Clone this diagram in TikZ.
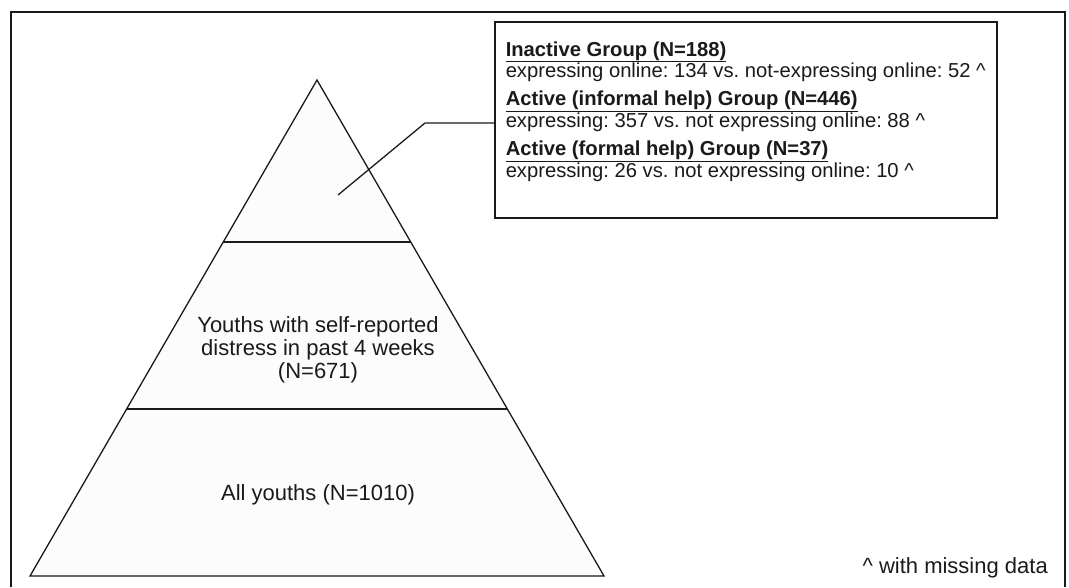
\documentclass[tikz,border=0pt]{standalone}
\usepackage{fontspec}
\setmainfont{Liberation Sans}
\usepackage{xcolor}
\usepackage{tikz}
\usetikzlibrary{calc,positioning}
\definecolor{linec}{HTML}{1A1A1A}
\definecolor{pyrbg}{HTML}{FCFCFC}
\frenchspacing
\tikzset{
  frm/.style={draw=linec,line width=2pt},
  ln/.style={draw=linec,line width=1.3pt},
  lbl/.style={align=center,font=\fontsize{22}{23}\selectfont,text=linec,inner sep=0pt},
  box/.style={draw=linec,line width=1.5pt,fill=white,align=left,anchor=north west,
    minimum width=502pt,minimum height=196pt,inner xsep=6pt,
    font=\fontsize{20.2}{20}\selectfont,text=linec}
}
\begin{document}
\begin{tikzpicture}[x=1pt,y=-1pt]
\useasboundingbox (0,0) rectangle (1069,587);
\draw[frm] (11,587)--(11,12)--(1065,12)--(1065,587);
% pyramid
\coordinate (top) at (317,80);
\coordinate (bl) at (30,576);
\coordinate (br) at (604,576);
\fill[pyrbg] (top)--(bl)--(br)--cycle;
\draw[ln] (top)--(bl)--(br)--cycle;
\draw[ln] ($(top)!162/496!(bl)$) -- ($(top)!162/496!(br)$);
\draw[ln] ($(top)!329/496!(bl)$) -- ($(top)!329/496!(br)$);
\node[lbl] (mid) at (318,349.5) {Youths with self-reported\\distress in past 4 weeks\\(N=671)};
\node[lbl,anchor=base] (all) at (318,500) {All youths (N=1010)};
% groups
\node[box] (groups) at (494,21) {%
\underline{\textbf{Inactive Group (N=188)}}\\
expressing online: 134 vs. not-expressing online: 52 \^{}\\[8pt]
\underline{\textbf{Active (informal help) Group (N=446)}}\\
expressing: 357 vs. not expressing online: 88 \^{}\\[8pt]
\underline{\textbf{Active (formal help) Group (N=37)}}\\
expressing: 26 vs. not expressing online: 10 \^{}\\[0.6pt]\mbox{}};
\coordinate (tip) at (338,195);
\coordinate (bend) at (425,123);
\draw[ln] (tip) -- (bend) -- (groups.west |- bend);
\node[lbl,anchor=base east] (note) at (1048,573) {\^{} with missing data};
\end{tikzpicture}
\end{document}
